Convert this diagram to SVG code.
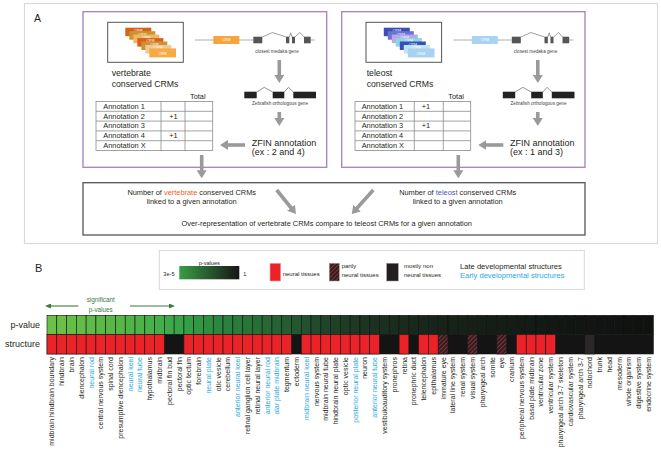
<svg xmlns="http://www.w3.org/2000/svg" width="661" height="460" viewBox="0 0 661 460">
<style>
text{font-family:"Liberation Sans",Arial,sans-serif;fill:#231f20}
.panel{fill:none;stroke:#d9d9d9;stroke-width:1.2}
.pbox{fill:#fff;stroke:#a57fbf;stroke-width:1.3}
.frame{fill:#fff;stroke:#555;stroke-width:1}
.tbl{stroke:#8a8a8a;stroke-width:0.8;fill:none}
.tt{font-size:7.4px}
.big{font-size:8.7px}
.zf{font-size:9px}
.tiny{font-size:4.6px;fill:#444}
.crm{font-size:3.6px;fill:#fff;text-anchor:middle}
.garrow{stroke:#9a9a9a;stroke-width:3.6;fill:none;marker-end:url(#gh)}
.bt{font-size:7.4px;text-anchor:middle}
.lg{font-size:6px}
.lab{font-size:7px;text-anchor:end}
.blue{fill:#29a9e0}
.pv{stroke:#0e0e0e;stroke-width:0.6}
.r{fill:#ec2229;stroke:#1a1a1a;stroke-width:0.6}
.h{fill:url(#hatch);stroke:#1a1a1a;stroke-width:0.6}
</style>
<defs>
<marker id="gh" markerUnits="userSpaceOnUse" markerWidth="8" markerHeight="10" viewBox="0 0 8 10" refX="1" refY="5" orient="auto"><path d="M0,0 L8,5 L0,10 z" fill="#9a9a9a"/></marker>
<marker id="sh" markerUnits="userSpaceOnUse" markerWidth="6" markerHeight="5" viewBox="0 0 6 5" refX="1" refY="2.5" orient="auto"><path d="M0,0 L6,2.5 L0,5 z" fill="#3c7a3c"/></marker>
<pattern id="hatch" patternUnits="userSpaceOnUse" width="3" height="3" patternTransform="rotate(45)"><rect width="3" height="3" fill="#231f20"/><rect width="1.2" height="3" fill="#8b2b36"/></pattern>
<linearGradient id="pg" x1="0" y1="0" x2="1" y2="0"><stop offset="0" stop-color="#3a9c45"/><stop offset="1" stop-color="#161616"/></linearGradient>
</defs>

<!-- Panel A frame -->
<rect class="panel" x="24.5" y="3.5" width="633" height="240"/>
<text x="34" y="21.7" style="font-size:10.5px">A</text>

<!-- Left purple box: vertebrate -->
<g id="vertebrate-box">
<rect class="pbox" x="83" y="11.7" width="243.7" height="155.6"/>
<rect class="frame" x="107.7" y="22.3" width="75.6" height="40"/>
<g>
<rect x="125.3" y="27.7" width="26" height="8.5" fill="#d8621c"/><text class="crm" x="138.3" y="32">CRM</text>
<rect x="129.3" y="31.2" width="26" height="8.5" fill="#c9962e"/><text class="crm" x="142.3" y="35.5">CRM</text>
<rect x="133.3" y="34.6" width="26" height="8.5" fill="#f2b466"/><text class="crm" x="146.3" y="38.9">CRM</text>
<rect x="137.3" y="38.1" width="26" height="8.5" fill="#d95f1a"/><text class="crm" x="150.3" y="42.4">CRM</text>
<rect x="141.3" y="41.5" width="26" height="8.5" fill="#c9952c"/><text class="crm" x="154.3" y="45.8">CRM</text>
<rect x="145.3" y="45" width="26" height="8.5" fill="#f6c596"/><text class="crm" x="158.3" y="49.3">CRM</text>
<rect x="149.3" y="48.4" width="26.7" height="9" fill="#f6aa44"/><text class="crm" x="162.5" y="54.5">CRM</text>
</g>
<text class="big" x="111.7" y="76">vertebrate</text>
<text class="big" x="111.7" y="87.3">conserved CRMs</text>
<g id="medaka-gene-v">
<line x1="195" y1="40" x2="253" y2="40" stroke="#9a9a9a" stroke-width="0.8"/>
<line x1="310.7" y1="40" x2="315" y2="40" stroke="#9a9a9a" stroke-width="0.8"/>
<rect x="213.3" y="36" width="26" height="8" fill="#f6a53c"/><text class="crm" x="226.3" y="41.3">CRM</text>
<rect x="253.3" y="36.7" width="9" height="6.6" fill="#555"/>
<rect x="286" y="36.7" width="3.3" height="6.6" fill="#555"/>
<rect x="292" y="36.7" width="3" height="6.6" fill="#555"/>
<rect x="304" y="36.7" width="6.7" height="6.6" fill="#555"/>
<polyline points="262.3,37 272.5,32.5 286,37" fill="none" stroke="#777" stroke-width="0.7"/>
<polyline points="289.3,37 290.7,32.8 292,37" fill="none" stroke="#777" stroke-width="0.7"/>
<polyline points="295,37 300,32.5 304,37" fill="none" stroke="#777" stroke-width="0.7"/>
<text class="tiny" x="277" y="53" text-anchor="middle">closest medaka gene</text>
</g>
<g id="zebrafish-gene-v">
<rect x="244.3" y="91.7" width="12.4" height="6.6" fill="#222"/>
<rect x="272.7" y="91.7" width="11.6" height="6.6" fill="#222"/>
<rect x="293.3" y="91.7" width="22.7" height="6.6" fill="#222"/>
<polyline points="256.7,92 264.3,87.3 272.7,92" fill="none" stroke="#666" stroke-width="0.7"/>
<polyline points="284.3,92 288.5,87.3 293.3,92" fill="none" stroke="#666" stroke-width="0.7"/>
<text class="tiny" x="280" y="104.5" text-anchor="middle">Zebrafish orthologous gene</text>
</g>
<text x="190" y="99" style="font-size:7.4px">Total</text>
<g id="table-v">
<rect class="tbl" x="96" y="101.5" width="116.7" height="49"/>
<path class="tbl" d="M161,101.5V150.5M185,101.5V150.5M96,111.3H212.7M96,121.1H212.7M96,130.9H212.7M96,140.7H212.7"/>
<text class="tt" x="103.3" y="108.8">Annotation 1</text>
<text class="tt" x="103.3" y="118.6">Annotation 2</text>
<text class="tt" x="103.3" y="128.4">Annotation 3</text>
<text class="tt" x="103.3" y="138.2">Annotation 4</text>
<text class="tt" x="103.3" y="148">Annotation X</text>
<text class="tt" x="173.5" y="118.6" text-anchor="middle">+1</text>
<text class="tt" x="173.5" y="138.2" text-anchor="middle">+1</text>
</g>
<text class="zf" x="251.7" y="146">ZFIN annotation</text>
<text class="zf" x="251.7" y="155">(ex : 2 and 4)</text>
</g>

<!-- Right purple box: teleost -->
<g id="teleost-box">
<rect class="pbox" x="341.7" y="11.7" width="243.3" height="155.6"/>
<rect class="frame" x="366" y="22.3" width="75.6" height="40"/>
<g>
<rect x="383.8" y="27.7" width="26" height="8.5" fill="#3c4fb7"/><text class="crm" x="396.8" y="32">CRM</text>
<rect x="387.8" y="31.2" width="26" height="8.5" fill="#6a72d2"/><text class="crm" x="400.8" y="35.5">CRM</text>
<rect x="391.8" y="34.6" width="26" height="8.5" fill="#b7a9e6"/><text class="crm" x="404.8" y="38.9">CRM</text>
<rect x="395.8" y="38.1" width="26" height="8.5" fill="#8ad6e6"/><text class="crm" x="408.8" y="42.4">CRM</text>
<rect x="399.8" y="41.5" width="26" height="8.5" fill="#3c4fb7"/><text class="crm" x="412.8" y="45.8">CRM</text>
<rect x="403.8" y="45" width="26" height="8.5" fill="#bde5f2"/><text class="crm" x="416.8" y="49.3">CRM</text>
<rect x="407.8" y="48.4" width="26.7" height="9" fill="#a9d2f1"/><text class="crm" x="421" y="54.5">CRM</text>
</g>
<text class="big" x="366.7" y="76">teleost</text>
<text class="big" x="366.7" y="87.3">conserved CRMs</text>
<g id="medaka-gene-t" transform="translate(258.5,0)">
<line x1="195" y1="40" x2="253" y2="40" stroke="#9a9a9a" stroke-width="0.8"/>
<line x1="310.7" y1="40" x2="315" y2="40" stroke="#9a9a9a" stroke-width="0.8"/>
<rect x="213.3" y="36" width="26" height="8" fill="#a8d4f2"/><text class="crm" x="226.3" y="41.3">CRM</text>
<rect x="253.3" y="36.7" width="9" height="6.6" fill="#555"/>
<rect x="286" y="36.7" width="3.3" height="6.6" fill="#555"/>
<rect x="292" y="36.7" width="3" height="6.6" fill="#555"/>
<rect x="304" y="36.7" width="6.7" height="6.6" fill="#555"/>
<polyline points="262.3,37 272.5,32.5 286,37" fill="none" stroke="#777" stroke-width="0.7"/>
<polyline points="289.3,37 290.7,32.8 292,37" fill="none" stroke="#777" stroke-width="0.7"/>
<polyline points="295,37 300,32.5 304,37" fill="none" stroke="#777" stroke-width="0.7"/>
<text class="tiny" x="277" y="53" text-anchor="middle">closest medaka gene</text>
</g>
<g id="zebrafish-gene-t" transform="translate(258.5,0)">
<rect x="244.3" y="91.7" width="12.4" height="6.6" fill="#222"/>
<rect x="272.7" y="91.7" width="11.6" height="6.6" fill="#222"/>
<rect x="293.3" y="91.7" width="22.7" height="6.6" fill="#222"/>
<polyline points="256.7,92 264.3,87.3 272.7,92" fill="none" stroke="#666" stroke-width="0.7"/>
<polyline points="284.3,92 288.5,87.3 293.3,92" fill="none" stroke="#666" stroke-width="0.7"/>
<text class="tiny" x="280" y="104.5" text-anchor="middle">Zebrafish orthologous gene</text>
</g>
<text x="448.3" y="99" style="font-size:7.4px">Total</text>
<g id="table-t">
<rect class="tbl" x="355" y="101.5" width="115.7" height="49"/>
<path class="tbl" d="M414.3,101.5V150.5M443.3,101.5V150.5M355,111.3H470.7M355,121.1H470.7M355,130.9H470.7M355,140.7H470.7"/>
<text class="tt" x="361.7" y="108.8">Annotation 1</text>
<text class="tt" x="361.7" y="118.6">Annotation 2</text>
<text class="tt" x="361.7" y="128.4">Annotation 3</text>
<text class="tt" x="361.7" y="138.2">Annotation 4</text>
<text class="tt" x="361.7" y="148">Annotation X</text>
<text class="tt" x="426" y="108.8" text-anchor="middle">+1</text>
<text class="tt" x="426" y="128.4" text-anchor="middle">+1</text>
</g>
<text class="zf" x="510" y="146">ZFIN annotation</text>
<text class="zf" x="510" y="155">(ex : 1 and 3)</text>
</g>

<!-- Bottom summary box -->
<g id="summary-box">
<rect x="83" y="182.7" width="502" height="52.3" fill="#fff" stroke="#555" stroke-width="1.3"/>
<text class="bt" x="191.7" y="195">Number of <tspan fill="#f15a24">vertebrate</tspan> conserved CRMs</text>
<text class="bt" x="191.7" y="204">linked to a given annotation</text>
<text class="bt" x="457.7" y="195">Number of <tspan fill="#4b56b4">teleost</tspan> conserved CRMs</text>
<text class="bt" x="457.7" y="204">linked to a given annotation</text>
<text class="bt" x="326.7" y="226">Over-representation of vertebrate CRMs  compare to teleost CRMs for a given annotation</text>
</g>

<!-- Connectors -->
<g id="connectors">
<line class="garrow" x1="279.3" y1="60" x2="279.3" y2="76"/>
<line class="garrow" x1="279.3" y1="112" x2="279.3" y2="119"/>
<line class="garrow" x1="245" y1="145" x2="227" y2="145"/>
<line class="garrow" x1="537.8" y1="60" x2="537.8" y2="76"/>
<line class="garrow" x1="537.8" y1="112" x2="537.8" y2="119"/>
<line class="garrow" x1="503.3" y1="145" x2="485.3" y2="145"/>
<line class="garrow" x1="201.7" y1="155" x2="201.7" y2="171.3"/>
<line class="garrow" x1="458.3" y1="155" x2="458.3" y2="171.3"/>
<line class="garrow" x1="276.7" y1="190" x2="291.6" y2="208.5"/>
<line class="garrow" x1="373.3" y1="190" x2="356.4" y2="208.8"/>
</g>

<!-- Panel B -->
<text x="35" y="271.7" style="font-size:11px">B</text>
<g id="legend">
<rect x="159.3" y="250.5" width="425" height="39" fill="#fff" stroke="#dcdcdc" stroke-width="1.2"/>
<text x="209.3" y="264.5" text-anchor="middle" style="font-size:5.6px">p-values</text>
<text x="163.3" y="275.5" style="font-size:5.6px">3e-5</text>
<rect x="179.3" y="266" width="60" height="13.3" fill="url(#pg)"/>
<text x="243.3" y="275.5" style="font-size:5.6px">1</text>
<rect x="270" y="263.3" width="10.7" height="17.7" fill="#ec2229" stroke="#f3a3a6" stroke-width="0.6"/>
<text class="lg" x="282.7" y="276">neural tissues</text>
<rect x="329.3" y="263.3" width="10" height="17.7" fill="url(#hatch)" stroke="#999" stroke-width="0.5"/>
<text class="lg" x="341.7" y="268.3">partly</text>
<text class="lg" x="341.7" y="276.5">neural tissues</text>
<rect x="386.7" y="263.3" width="11.6" height="17.7" fill="#231f20" stroke="#999" stroke-width="0.5"/>
<text class="lg" x="404" y="268.3">mostly non</text>
<text class="lg" x="404" y="276.5">neural tissues</text>
<text x="460" y="269" style="font-size:7.6px">Late developmental structures</text>
<text x="460" y="277.7" style="font-size:7.6px" class="blue">Early developmental structures</text>
</g>

<g id="significance">
<text x="100.7" y="302" text-anchor="middle" style="font-size:6.3px;fill:#3c7a3c">significant</text>
<text x="100.7" y="311.5" text-anchor="middle" style="font-size:6.3px;fill:#3c7a3c">p-values</text>
<line x1="78.3" y1="306" x2="50" y2="306" stroke="#3c7a3c" stroke-width="1.1" marker-end="url(#sh)"/>
<line x1="130" y1="306" x2="170" y2="306" stroke="#3c7a3c" stroke-width="1.1" marker-end="url(#sh)"/>
</g>

<text x="40" y="327.5" text-anchor="end" style="font-size:9px">p-value</text>
<text x="40" y="347" text-anchor="end" style="font-size:9px">structure</text>

<g id="pvalue-row">
<rect class="pv" x="47.00" y="315.3" width="9.78" height="19.2" fill="#6dc046"/>
<rect class="pv" x="56.78" y="315.3" width="9.78" height="19.2" fill="#6abf46"/>
<rect class="pv" x="66.56" y="315.3" width="9.78" height="19.2" fill="#66bd46"/>
<rect class="pv" x="76.34" y="315.3" width="9.78" height="19.2" fill="#62bc46"/>
<rect class="pv" x="86.12" y="315.3" width="9.78" height="19.2" fill="#5ebb47"/>
<rect class="pv" x="95.90" y="315.3" width="9.78" height="19.2" fill="#5ab947"/>
<rect class="pv" x="105.68" y="315.3" width="9.78" height="19.2" fill="#57b848"/>
<rect class="pv" x="115.46" y="315.3" width="9.78" height="19.2" fill="#54b748"/>
<rect class="pv" x="125.24" y="315.3" width="9.78" height="19.2" fill="#50b549"/>
<rect class="pv" x="135.02" y="315.3" width="9.78" height="19.2" fill="#4cb349"/>
<rect class="pv" x="144.80" y="315.3" width="9.78" height="19.2" fill="#48b14a"/>
<rect class="pv" x="154.58" y="315.3" width="9.78" height="19.2" fill="#43ae4a"/>
<rect class="pv" x="164.36" y="315.3" width="9.78" height="19.2" fill="#3eaa4a"/>
<rect class="pv" x="174.14" y="315.3" width="9.78" height="19.2" fill="#39a549"/>
<rect class="pv" x="183.92" y="315.3" width="9.78" height="19.2" fill="#349e47"/>
<rect class="pv" x="193.70" y="315.3" width="9.78" height="19.2" fill="#309745"/>
<rect class="pv" x="203.48" y="315.3" width="9.78" height="19.2" fill="#2d8f42"/>
<rect class="pv" x="213.26" y="315.3" width="9.78" height="19.2" fill="#2b873f"/>
<rect class="pv" x="223.04" y="315.3" width="9.78" height="19.2" fill="#2a803d"/>
<rect class="pv" x="232.82" y="315.3" width="9.78" height="19.2" fill="#297a3b"/>
<rect class="pv" x="242.60" y="315.3" width="9.78" height="19.2" fill="#287439"/>
<rect class="pv" x="252.38" y="315.3" width="9.78" height="19.2" fill="#286e37"/>
<rect class="pv" x="262.16" y="315.3" width="9.78" height="19.2" fill="#276835"/>
<rect class="pv" x="271.94" y="315.3" width="9.78" height="19.2" fill="#266233"/>
<rect class="pv" x="281.72" y="315.3" width="9.78" height="19.2" fill="#255c31"/>
<rect class="pv" x="291.50" y="315.3" width="9.78" height="19.2" fill="#24562f"/>
<rect class="pv" x="301.28" y="315.3" width="9.78" height="19.2" fill="#23502d"/>
<rect class="pv" x="311.06" y="315.3" width="9.78" height="19.2" fill="#224a2b"/>
<rect class="pv" x="320.84" y="315.3" width="9.78" height="19.2" fill="#214529"/>
<rect class="pv" x="330.62" y="315.3" width="9.78" height="19.2" fill="#204027"/>
<rect class="pv" x="340.40" y="315.3" width="9.78" height="19.2" fill="#1f3c25"/>
<rect class="pv" x="350.18" y="315.3" width="9.78" height="19.2" fill="#1e3823"/>
<rect class="pv" x="359.96" y="315.3" width="9.78" height="19.2" fill="#1d3522"/>
<rect class="pv" x="369.74" y="315.3" width="9.78" height="19.2" fill="#1c3220"/>
<rect class="pv" x="379.52" y="315.3" width="9.78" height="19.2" fill="#1b2f1f"/>
<rect class="pv" x="389.30" y="315.3" width="9.78" height="19.2" fill="#1a2c1e"/>
<rect class="pv" x="399.08" y="315.3" width="9.78" height="19.2" fill="#1a2a1d"/>
<rect class="pv" x="408.86" y="315.3" width="9.78" height="19.2" fill="#19281c"/>
<rect class="pv" x="418.64" y="315.3" width="9.78" height="19.2" fill="#18261b"/>
<rect class="pv" x="428.42" y="315.3" width="9.78" height="19.2" fill="#18251a"/>
<rect class="pv" x="438.20" y="315.3" width="9.78" height="19.2" fill="#172319"/>
<rect class="pv" x="447.98" y="315.3" width="9.78" height="19.2" fill="#172218"/>
<rect class="pv" x="457.76" y="315.3" width="9.78" height="19.2" fill="#162118"/>
<rect class="pv" x="467.54" y="315.3" width="9.78" height="19.2" fill="#162017"/>
<rect class="pv" x="477.32" y="315.3" width="9.78" height="19.2" fill="#151f17"/>
<rect class="pv" x="487.10" y="315.3" width="9.78" height="19.2" fill="#151e16"/>
<rect class="pv" x="496.88" y="315.3" width="9.78" height="19.2" fill="#151d16"/>
<rect class="pv" x="506.66" y="315.3" width="9.78" height="19.2" fill="#141c15"/>
<rect class="pv" x="516.44" y="315.3" width="9.78" height="19.2" fill="#141b15"/>
<rect class="pv" x="526.22" y="315.3" width="9.78" height="19.2" fill="#141a14"/>
<rect class="pv" x="536.00" y="315.3" width="9.78" height="19.2" fill="#131914"/>
<rect class="pv" x="545.78" y="315.3" width="9.78" height="19.2" fill="#131814"/>
<rect class="pv" x="555.56" y="315.3" width="9.78" height="19.2" fill="#131713"/>
<rect class="pv" x="565.34" y="315.3" width="9.78" height="19.2" fill="#121613"/>
<rect class="pv" x="575.12" y="315.3" width="9.78" height="19.2" fill="#121613"/>
<rect class="pv" x="584.90" y="315.3" width="9.78" height="19.2" fill="#121512"/>
<rect class="pv" x="594.68" y="315.3" width="9.78" height="19.2" fill="#111412"/>
<rect class="pv" x="604.46" y="315.3" width="9.78" height="19.2" fill="#111412"/>
<rect class="pv" x="614.24" y="315.3" width="9.78" height="19.2" fill="#111311"/>
<rect class="pv" x="624.02" y="315.3" width="9.78" height="19.2" fill="#111311"/>
<rect class="pv" x="633.80" y="315.3" width="9.78" height="19.2" fill="#101210"/>
<rect class="pv" x="643.58" y="315.3" width="9.78" height="19.2" fill="#101210"/>
</g>

<g id="structure-row">
<rect x="47" y="334.5" width="606.36" height="19.5" fill="#141414" stroke="#141414" stroke-width="0.6"/>
<rect class="r" x="47.00" y="334.5" width="9.78" height="19.5"/>
<rect class="r" x="56.78" y="334.5" width="9.78" height="19.5"/>
<rect class="r" x="66.56" y="334.5" width="9.78" height="19.5"/>
<rect class="r" x="76.34" y="334.5" width="9.78" height="19.5"/>
<rect class="r" x="86.12" y="334.5" width="9.78" height="19.5"/>
<rect class="r" x="95.90" y="334.5" width="9.78" height="19.5"/>
<rect class="r" x="105.68" y="334.5" width="9.78" height="19.5"/>
<rect class="r" x="115.46" y="334.5" width="9.78" height="19.5"/>
<rect class="r" x="125.24" y="334.5" width="9.78" height="19.5"/>
<rect class="r" x="135.02" y="334.5" width="9.78" height="19.5"/>
<rect class="r" x="144.80" y="334.5" width="9.78" height="19.5"/>
<rect class="r" x="154.58" y="334.5" width="9.78" height="19.5"/>
<rect class="r" x="183.92" y="334.5" width="9.78" height="19.5"/>
<rect class="r" x="193.70" y="334.5" width="9.78" height="19.5"/>
<rect class="r" x="203.48" y="334.5" width="9.78" height="19.5"/>
<rect class="r" x="213.26" y="334.5" width="9.78" height="19.5"/>
<rect class="r" x="223.04" y="334.5" width="9.78" height="19.5"/>
<rect class="r" x="232.82" y="334.5" width="9.78" height="19.5"/>
<rect class="r" x="242.60" y="334.5" width="9.78" height="19.5"/>
<rect class="r" x="252.38" y="334.5" width="9.78" height="19.5"/>
<rect class="r" x="262.16" y="334.5" width="9.78" height="19.5"/>
<rect class="r" x="271.94" y="334.5" width="9.78" height="19.5"/>
<rect class="r" x="281.72" y="334.5" width="9.78" height="19.5"/>
<rect class="r" x="301.28" y="334.5" width="9.78" height="19.5"/>
<rect class="r" x="311.06" y="334.5" width="9.78" height="19.5"/>
<rect class="r" x="320.84" y="334.5" width="9.78" height="19.5"/>
<rect class="r" x="330.62" y="334.5" width="9.78" height="19.5"/>
<rect class="r" x="340.40" y="334.5" width="9.78" height="19.5"/>
<rect class="r" x="350.18" y="334.5" width="9.78" height="19.5"/>
<rect class="r" x="359.96" y="334.5" width="9.78" height="19.5"/>
<rect class="r" x="369.74" y="334.5" width="9.78" height="19.5"/>
<rect class="r" x="399.08" y="334.5" width="9.78" height="19.5"/>
<rect class="r" x="418.64" y="334.5" width="9.78" height="19.5"/>
<rect class="r" x="428.42" y="334.5" width="9.78" height="19.5"/>
<rect class="h" x="438.20" y="334.5" width="9.78" height="19.5"/>
<rect class="h" x="467.54" y="334.5" width="9.78" height="19.5"/>
<rect class="h" x="496.88" y="334.5" width="9.78" height="19.5"/>
<rect class="r" x="516.44" y="334.5" width="9.78" height="19.5"/>
<rect class="r" x="526.22" y="334.5" width="9.78" height="19.5"/>
<rect class="r" x="536.00" y="334.5" width="9.78" height="19.5"/>
<rect class="r" x="545.78" y="334.5" width="9.78" height="19.5"/>
<rect x="584.90" y="334.5" width="9.78" height="19.5" fill="#2c282a" stroke="#141414" stroke-width="0.6"/>
</g>

<g id="column-labels" class="lab">
<text class="lab" transform="translate(54.4,357) rotate(-90)">midbrain hindbrain boundary</text>
<text class="lab" transform="translate(64.2,357) rotate(-90)">hindbrain</text>
<text class="lab" transform="translate(74.0,357) rotate(-90)">brain</text>
<text class="lab" transform="translate(83.7,357) rotate(-90)">diencephalon</text>
<text class="lab blue" transform="translate(93.5,357) rotate(-90)">neural rod</text>
<text class="lab" transform="translate(103.3,357) rotate(-90)">central nervous system</text>
<text class="lab" transform="translate(113.1,357) rotate(-90)">spinal cord</text>
<text class="lab" transform="translate(122.9,357) rotate(-90)">presumptive diencephalon</text>
<text class="lab blue" transform="translate(132.6,357) rotate(-90)">neural keel</text>
<text class="lab blue" transform="translate(142.4,357) rotate(-90)">neural tube</text>
<text class="lab" transform="translate(152.2,357) rotate(-90)">hypothalamus</text>
<text class="lab" transform="translate(162.0,357) rotate(-90)">midbrain</text>
<text class="lab" transform="translate(171.8,357) rotate(-90)">pectoral fin bud</text>
<text class="lab" transform="translate(181.5,357) rotate(-90)">pectoral fin</text>
<text class="lab" transform="translate(191.3,357) rotate(-90)">optic tectum</text>
<text class="lab" transform="translate(201.1,357) rotate(-90)">forebrain</text>
<text class="lab blue" transform="translate(210.9,357) rotate(-90)">neural plate</text>
<text class="lab" transform="translate(220.7,357) rotate(-90)">otic vesicle</text>
<text class="lab" transform="translate(230.4,357) rotate(-90)">cerebellum</text>
<text class="lab blue" transform="translate(240.2,357) rotate(-90)">anterior neural keel</text>
<text class="lab" transform="translate(250.0,357) rotate(-90)">retinal ganglion cell layer</text>
<text class="lab" transform="translate(259.8,357) rotate(-90)">retinal neural layer</text>
<text class="lab blue" transform="translate(269.6,357) rotate(-90)">anterior neural rod</text>
<text class="lab blue" transform="translate(279.3,357) rotate(-90)">alar plate midbrain</text>
<text class="lab" transform="translate(289.1,357) rotate(-90)">tegmentum</text>
<text class="lab" transform="translate(298.9,357) rotate(-90)">ectoderm</text>
<text class="lab blue" transform="translate(308.7,357) rotate(-90)">midbrain neural keel</text>
<text class="lab" transform="translate(318.5,357) rotate(-90)">nervous system</text>
<text class="lab" transform="translate(328.2,357) rotate(-90)">midbrain neural tube</text>
<text class="lab" transform="translate(338.0,357) rotate(-90)">hindbrain neural plate</text>
<text class="lab" transform="translate(347.8,357) rotate(-90)">optic vesicle</text>
<text class="lab blue" transform="translate(357.6,357) rotate(-90)">posterior neural plate</text>
<text class="lab" transform="translate(367.4,357) rotate(-90)">neuron</text>
<text class="lab blue" transform="translate(377.1,357) rotate(-90)">anterior neural tube</text>
<text class="lab" transform="translate(386.9,357) rotate(-90)">vestibuloauditory system</text>
<text class="lab" transform="translate(396.7,357) rotate(-90)">pronephros</text>
<text class="lab" transform="translate(406.5,357) rotate(-90)">retina</text>
<text class="lab" transform="translate(416.3,357) rotate(-90)">pronephric duct</text>
<text class="lab" transform="translate(426.0,357) rotate(-90)">telencephalon</text>
<text class="lab" transform="translate(435.8,357) rotate(-90)">epithalamus</text>
<text class="lab" transform="translate(445.6,357) rotate(-90)">immature eye</text>
<text class="lab" transform="translate(455.4,357) rotate(-90)">lateral line system</text>
<text class="lab" transform="translate(465.2,357) rotate(-90)">renal system</text>
<text class="lab" transform="translate(474.9,357) rotate(-90)">visual system</text>
<text class="lab" transform="translate(484.7,357) rotate(-90)">pharyngeal arch</text>
<text class="lab" transform="translate(494.5,357) rotate(-90)">somite</text>
<text class="lab" transform="translate(504.3,357) rotate(-90)">eye</text>
<text class="lab" transform="translate(514.1,357) rotate(-90)">cranium</text>
<text class="lab" transform="translate(523.8,357) rotate(-90)">peripheral nervous system</text>
<text class="lab" transform="translate(533.6,357) rotate(-90)">basal plate midbrain</text>
<text class="lab" transform="translate(543.4,357) rotate(-90)">ventricular zone</text>
<text class="lab" transform="translate(553.2,357) rotate(-90)">ventricular system</text>
<text class="lab" transform="translate(563.0,357) rotate(-90)">pharyngeal arch 3-7 skeleton</text>
<text class="lab" transform="translate(572.7,357) rotate(-90)">cardiovascular system</text>
<text class="lab" transform="translate(582.5,357) rotate(-90)">pharyngeal arch 3-7</text>
<text class="lab" transform="translate(592.3,357) rotate(-90)">notochord</text>
<text class="lab" transform="translate(602.1,357) rotate(-90)">trunk</text>
<text class="lab" transform="translate(611.9,357) rotate(-90)">head</text>
<text class="lab" transform="translate(621.6,357) rotate(-90)">mesoderm</text>
<text class="lab" transform="translate(631.4,357) rotate(-90)">whole organism</text>
<text class="lab" transform="translate(641.2,357) rotate(-90)">digestive system</text>
<text class="lab" transform="translate(651.0,357) rotate(-90)">endocrine system</text>
</g>
</svg>
